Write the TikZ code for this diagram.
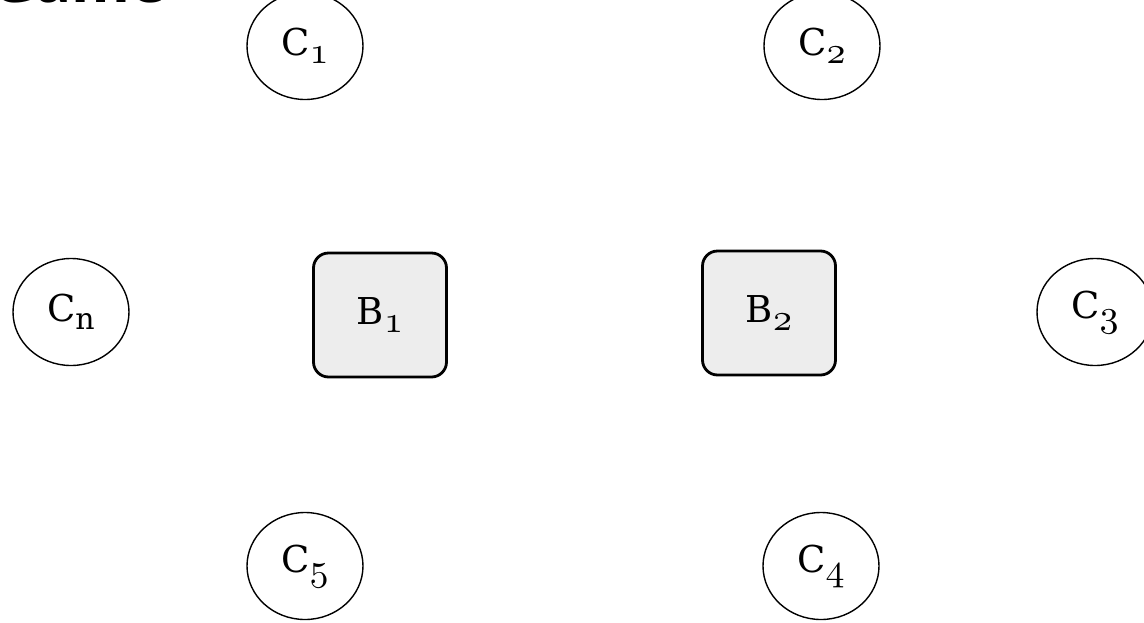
\documentclass[tikz,border=0pt]{standalone}
\usepackage{fontspec}
\setmainfont{DejaVu Serif}
\newfontfamily\titlefont{Open Sans}
\usetikzlibrary{shapes.geometric}
% old-style digits for the indices
\font\osdigitfont=cmmi10 at 38pt
\newcommand{\osdigit}[1]{{\osdigitfont #1}}
\newcommand{\lbl}[2]{#1\raisebox{-8pt}{\fontsize{30}{30}\selectfont #2}}
\tikzset{
  client/.style={ellipse, draw, line width=1.4pt, minimum width=116pt, minimum height=107pt,
    inner sep=0pt, font=\fontsize{37}{37}\selectfont},
  broker/.style={rectangle, rounded corners=15pt, draw, line width=2.8pt, fill=gray!14,
    minimum width=133pt, minimum height=124pt, inner sep=0pt, font=\fontsize{37}{37}\selectfont}
}
\begin{document}
\begin{tikzpicture}[x=1pt, y=-1pt]
  \useasboundingbox (0,0) rectangle (1144,622);
  % heading, mostly above the top edge
  \node[anchor=base east, inner sep=0pt, font=\titlefont\bfseries\fontsize{60}{60}\selectfont] (title) at (166,2) {Game};
  % clients
  \node[client] (c1) at (305,46) {\lbl{C}{\osdigit{1}}};
  \node[client] (c2) at (822,46) {\lbl{C}{\osdigit{2}}};
  \node[client] (cn) at (71,312) {\lbl{C}{n}};
  \node[client] (c3) at (1095,312) {\lbl{C}{\osdigit{3}}};
  \node[client] (c5) at (305,566) {\lbl{C}{\osdigit{5}}};
  \node[client] (c4) at (821,566) {\lbl{C}{\osdigit{4}}};
  % brokers
  \node[broker] (b1) at (380,315) {\lbl{B}{\osdigit{1}}};
  \node[broker] (b2) at (769,313) {\lbl{B}{\osdigit{2}}};
\end{tikzpicture}
\end{document}
